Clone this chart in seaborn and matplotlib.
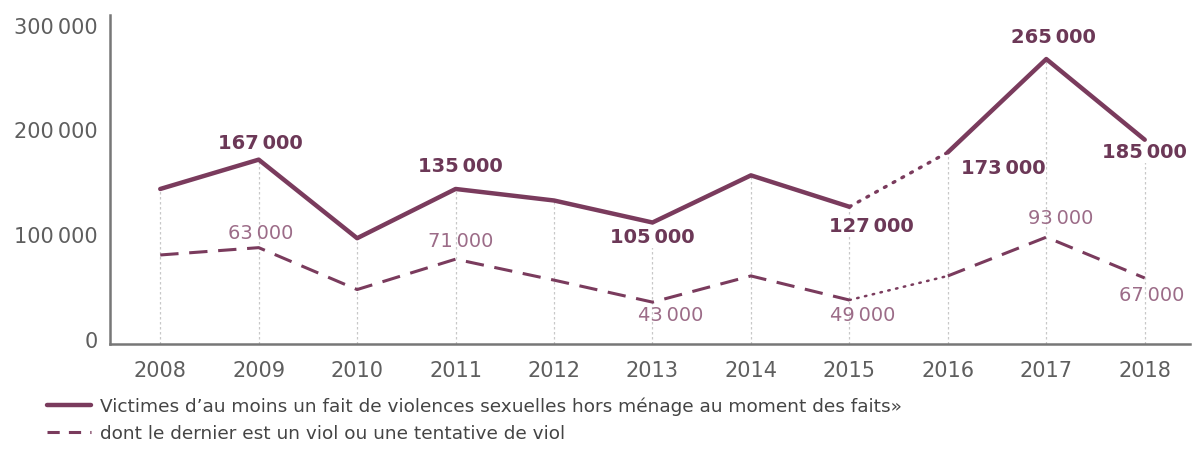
import matplotlib
matplotlib.use("Agg")
import matplotlib.pyplot as plt
from matplotlib.lines import Line2D
import seaborn as sns
import pandas as pd

# données
years = [2008, 2009, 2010, 2011, 2012, 2013, 2014, 2015, 2016, 2017, 2018]
total = [144000, 172000, 97000, 144000, 133000, 112000, 157000, 127000, 179000, 268000, 191000]
viol = [81000, 88000, 48000, 77000, 57000, 36000, 61000, 38000, 61000, 98000, 59000]

total_label_years = [2009, 2011, 2013, 2015, 2016, 2017, 2018]
total_labels = ["167\u2009000", "135\u2009000", "105\u2009000", "127\u2009000", "173\u2009000", "265\u2009000", "185\u2009000"]
viol_label_years = [2009, 2011, 2013, 2015, 2017, 2018]
viol_labels = ["63\u2009000", "71\u2009000", "43\u2009000", "49\u2009000", "93\u2009000", "67\u2009000"]

y_ticks = [0, 100000, 200000, 300000]
y_ticklabels = ["0", "100\u2009000", "200\u2009000", "300\u2009000"]

legend_labels = ["Victimes d\u2019au moins un fait de violences sexuelles hors ménage au moment des faits»",
                 "dont le dernier est un viol ou une tentative de viol"]

COL = "#7a3b5d"
COL_TXT = "#6c3857"
COL_LIGHT = "#9c6c88"
GREY = "#5e5e5e"

sns.set_style("white")
plt.rcParams['font.family'] = ['DejaVu Sans']

df = pd.DataFrame({"year": years, "total": total, "viol": viol})

fig = plt.figure(figsize=(11.96, 4.70), dpi=100)
ax = fig.add_axes([0.092, 0.268, 0.903, 0.70])

# lignes verticales pointillées
ax.vlines(df["year"], -4000, df["total"], colors="#c8c8c8", linestyles=(0, (2, 2)), linewidth=0.9, zorder=1)

solid_a = df.iloc[0:8]
dots = df.iloc[7:9]
solid_b = df.iloc[8:11]

for part in (solid_a, solid_b):
    sns.lineplot(data=part, x="year", y="total", ax=ax, color=COL, linewidth=3.2, zorder=3)
    sns.lineplot(data=part, x="year", y="viol", ax=ax, color=COL, linewidth=2.2, zorder=3,
                 linestyle=(0, (6, 3.5)))
sns.lineplot(data=dots, x="year", y="total", ax=ax, color=COL, linewidth=2.4, zorder=3,
             linestyle=(0, (0.6, 2.4)), dash_capstyle="round")
sns.lineplot(data=dots, x="year", y="viol", ax=ax, color=COL, linewidth=1.8, zorder=3,
             linestyle=(0, (0.6, 2.6)), dash_capstyle="round")

# étiquettes
total_offsets = [(2, 16), (5, 22), (0, -15), (22, -20), (55, -16), (7, 22), (0, -13)]
viol_offsets = [(2, 14), (5, 18), (18, -13), (13, -15), (14, 19), (7, -17)]

tot = dict(zip(years, total))
vio = dict(zip(years, viol))
for yr, lab, off in zip(total_label_years, total_labels, total_offsets):
    ax.annotate(lab, (yr, tot[yr]), xytext=off, textcoords="offset pixels", ha="center", va="center",
                fontsize=14, fontweight="bold", color=COL_TXT, zorder=5,
                bbox=dict(boxstyle="square,pad=0.05", fc="white", ec="none"))
for yr, lab, off in zip(viol_label_years, viol_labels, viol_offsets):
    ax.annotate(lab, (yr, vio[yr]), xytext=off, textcoords="offset pixels", ha="center", va="center",
                fontsize=14, color=COL_LIGHT, zorder=5)

ax.set_xlim(2007.49, 2018.46)
ax.set_ylim(-4000, 310000)
ax.set_xticks(years)
ax.set_xticklabels([str(y) for y in years])
ax.set_yticks(y_ticks)
ax.set_yticklabels(y_ticklabels)
ax.tick_params(axis="both", length=0, labelsize=15, labelcolor=GREY)
ax.tick_params(axis="x", pad=12)
ax.tick_params(axis="y", pad=9)
ax.set_xlabel("")
ax.set_ylabel("")

for s in ("top", "right"):
    ax.spines[s].set_visible(False)
for s in ("left", "bottom"):
    ax.spines[s].set_color("#777777")
    ax.spines[s].set_linewidth(1.8)

handles = [Line2D([0], [0], color=COL, linewidth=3.2),
           Line2D([0], [0], color=COL, linewidth=2.2, linestyle=(0, (4, 3)))]
fig.legend(handles, legend_labels, loc="upper left", bbox_to_anchor=(0.039, 0.155), frameon=False,
           fontsize=13.3, labelcolor="#444444", borderpad=0, borderaxespad=0, labelspacing=0.5,
           handlelength=2.4, handletextpad=0.5)

fig.savefig("out.png", dpi=100)
plt.close(fig)
